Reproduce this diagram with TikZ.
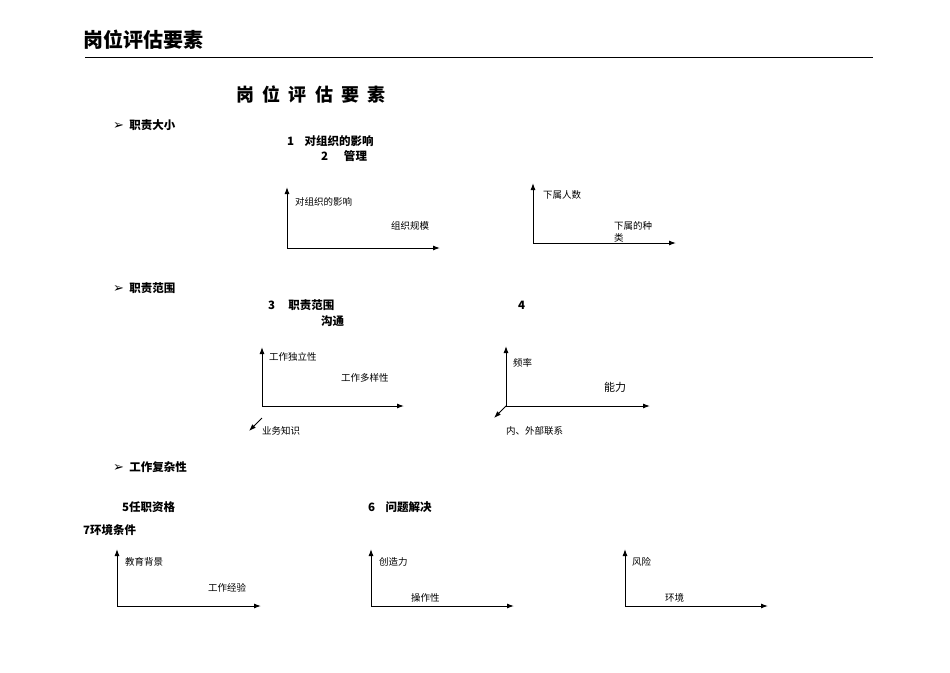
\documentclass[tikz,border=0pt]{standalone}
\usepackage{fontspec}
\usetikzlibrary{arrows.meta}
\setmainfont{Noto Sans CJK SC}
\newfontfamily\djsym{DejaVu Sans}
\begin{document}
\begin{tikzpicture}[x=1pt,y=-1pt,
  ax/.style={-{Latex[length=7pt,width=5pt]},line width=1pt},
  sm/.style={anchor=west,inner sep=0pt,font=\fontsize{9.5}{11}\selectfont},
  bd/.style={anchor=west,inner sep=0pt,font=\bfseries\fontsize{11.5}{13}\selectfont}]
\useasboundingbox (0,0) rectangle (950,672);
\node[anchor=west,inner sep=0pt,font=\bfseries\fontsize{20}{22}\selectfont] (hd) at (83,40) {岗位评估要素};
\draw[line width=0.8pt] (85,57) coordinate (l1) -- (873,57) coordinate (l2);
\node[inner sep=0pt,font=\bfseries\fontsize{18}{20}\selectfont] (tt) at (311,95) {岗\ \ 位\ \ 评\ \ 估\ \ 要\ \ 素};
\node[bd] (s1) at (113,125) {{\djsym\fontsize{13}{13}\selectfont ➢}\ \ 职责大小};
\node[bd] (n1) at (287,141) {1\ \ \ \ 对组织的影响};
\node[bd] (n2) at (321,156) {2\ \ \ \ \ \ 管理};
% chart1
\coordinate (o1) at (287,248);
\coordinate (y1) at (287,187); \coordinate (x1) at (440,248);
\draw[ax] (o1) -- (y1); \draw[ax] (o1) -- (x1);
\node[sm] (a1) at (295,202) {对组织的影响};
\node[sm] (b1) at (391,226) {组织规模};
% chart2
\coordinate (o2) at (533,243);
\coordinate (y2) at (533,183); \coordinate (x2) at (676,243);
\draw[ax] (o2) -- (y2); \draw[ax] (o2) -- (x2);
\node[sm] (a2) at (543,195) {下属人数};
\node[sm] (b2) at (614,226) {下属的种};
\node[sm] (c2) at (614,238) {类};
\node[bd] (s2) at (113,288) {{\djsym\fontsize{13}{13}\selectfont ➢}\ \ 职责范围};
\node[bd] (n3) at (268,305) {3\ \ \ \ \ 职责范围};
\node[bd] (n3b) at (321,321) {沟通};
\node[bd] (n4) at (518,305) {4};
% chart3
\coordinate (o3) at (262,406);
\coordinate (y3) at (262,347); \coordinate (x3) at (404,406);
\draw[ax] (o3) -- (y3); \draw[ax] (o3) -- (x3);
\coordinate (d3a) at (262,418); \coordinate (d3b) at (249,431);
\draw[ax] (d3a) -- (d3b);
\node[sm] (a3) at (269,357) {工作独立性};
\node[sm] (b3) at (341,378) {工作多样性};
\node[sm] (c3) at (262,431) {业务知识};
% chart4
\coordinate (o4) at (506,406);
\coordinate (y4) at (506,346); \coordinate (x4) at (650,406);
\coordinate (d4) at (494,418);
\draw[ax] (o4) -- (y4); \draw[ax] (o4) -- (x4); \draw[ax] (o4) -- (d4);
\node[sm] (a4) at (513,363) {频率};
\node[sm,font=\fontsize{11}{12}\selectfont] (b4) at (604,387) {能力};
\node[sm] (c4) at (506,431) {内、外部联系};
\node[bd] (s3) at (113,467) {{\djsym\fontsize{13}{13}\selectfont ➢}\ \ 工作复杂性};
\node[bd] (n5) at (122,507) {5任职资格};
\node[bd] (n6) at (368,507) {6\ \ \ \ 问题解决};
\node[bd] (n7) at (83,530) {7环境条件};
% chart5
\coordinate (o5) at (117,606);
\coordinate (y5) at (117,549); \coordinate (x5) at (261,606);
\draw[ax] (o5) -- (y5); \draw[ax] (o5) -- (x5);
\node[sm] (a5) at (125,562) {教育背景};
\node[sm] (b5) at (208,588) {工作经验};
% chart6
\coordinate (o6) at (371,606);
\coordinate (y6) at (371,549); \coordinate (x6) at (514,606);
\draw[ax] (o6) -- (y6); \draw[ax] (o6) -- (x6);
\node[sm] (a6) at (379,562) {创造力};
\node[sm] (b6) at (411,598) {操作性};
% chart7
\coordinate (o7) at (625,606);
\coordinate (y7) at (625,549); \coordinate (x7) at (768,606);
\draw[ax] (o7) -- (y7); \draw[ax] (o7) -- (x7);
\node[sm] (a7) at (632,562) {风险};
\node[sm] (b7) at (665,598) {环境};
\end{tikzpicture}
\end{document}
